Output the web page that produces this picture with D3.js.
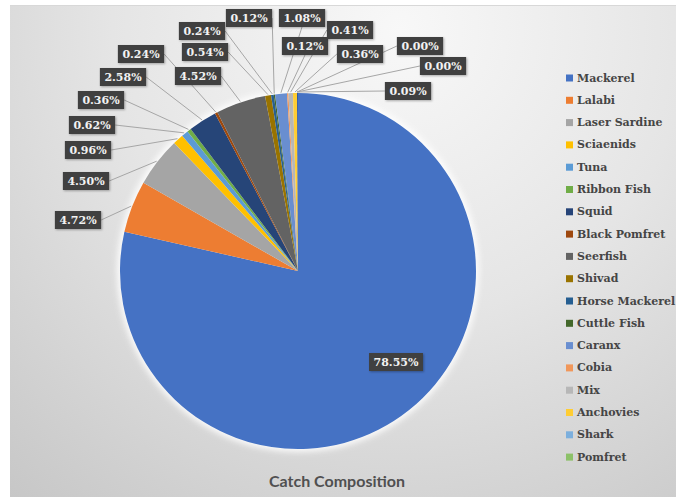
<!DOCTYPE html>
<html>
<head>
<meta charset="utf-8">
<script src="https://cdn.jsdelivr.net/npm/d3@7"></script>
<style>
  body { margin: 0; background: #ffffff; }
  svg { display: block; }
</style>
</head>
<body>
<svg id="chart" width="676" height="497"></svg>
<script>
// Catch composition by species (percent of total catch)
const species = [
  "Mackerel", "Lalabi", "Laser Sardine", "Sciaenids", "Tuna", "Ribbon Fish",
  "Squid", "Black Pomfret", "Seerfish", "Shivad", "Horse Mackerel", "Cuttle Fish",
  "Caranx", "Cobia", "Mix", "Anchovies", "Shark", "Pomfret", "Other"
];
const shares = [
  78.55, 4.72, 4.50, 0.96, 0.62, 0.36,
  2.58, 0.24, 4.52, 0.54, 0.24, 0.12,
  1.08, 0.12, 0.41, 0.36, 0.00, 0.00, 0.09
];
const palette = [
  "#4472C4", "#ED7D31", "#A5A5A5", "#FFC000", "#5B9BD5", "#70AD47",
  "#264478", "#9E480E", "#636363", "#997300", "#255E91", "#43682B",
  "#698ED0", "#F1975A", "#B7B7B7", "#FFCD33", "#7CAFDD", "#8CC168", "#335AA1"
];
// Callout box centres for each slice's percentage label
const labelCenters = [
  [396, 362], [78, 220], [86, 181], [88, 150], [92, 125], [101, 100],
  [123, 77], [141, 54], [198, 76], [205, 52], [202, 31], [249, 18],
  [302, 18], [305, 46], [350, 30], [360, 54], [420, 46], [443, 66], [408, 91]
];
const chartTitle = "Catch Composition";

const W = 676, H = 497;
const cx = 298, cy = 271, R = 178;

const svg = d3.select("#chart");
const defs = svg.append("defs");

// Chart area background: soft light-to-grey radial wash
const bg = defs.append("radialGradient")
  .attr("id", "bgGrad")
  .attr("gradientUnits", "userSpaceOnUse")
  .attr("cx", 400).attr("cy", 30).attr("r", 640);
bg.append("stop").attr("offset", 0).attr("stop-color", "#f8f8f8");
bg.append("stop").attr("offset", 0.45).attr("stop-color", "#e5e5e5");
bg.append("stop").attr("offset", 1).attr("stop-color", "#c4c4c4");

defs.append("filter").attr("id", "glow")
  .attr("x", "-20%").attr("y", "-20%").attr("width", "140%").attr("height", "140%")
  .append("feGaussianBlur").attr("stdDeviation", 3);

defs.append("filter").attr("id", "soft")
  .append("feGaussianBlur").attr("stdDeviation", 0.5);

const shadow = defs.append("filter").attr("id", "boxShadow")
  .attr("x", "-20%").attr("y", "-30%").attr("width", "150%").attr("height", "170%");
shadow.append("feDropShadow")
  .attr("dx", 1).attr("dy", 1).attr("stdDeviation", 1)
  .attr("flood-color", "#000").attr("flood-opacity", 0.3);

svg.append("rect")
  .attr("x", 10).attr("y", 5).attr("width", W - 10).attr("height", H - 5)
  .attr("fill", "url(#bgGrad)");
svg.append("line")
  .attr("x1", 10).attr("x2", W).attr("y1", 5.5).attr("y2", 5.5)
  .attr("stroke", "#d8d8d8").attr("stroke-width", 1);

// Pie geometry
const data = species.map((name, i) => ({ name, value: shares[i], color: palette[i], i }));
const pie = d3.pie().value(d => d.value).sort(null)
  .startAngle(0).endAngle(2 * Math.PI);
const arcs = pie(data);
const arc = d3.arc().innerRadius(0).outerRadius(R);

const g = svg.append("g").attr("transform", `translate(${cx},${cy})`);

// white halo behind the pie
g.append("circle").attr("r", R + 3).attr("fill", "#ffffff")
  .attr("opacity", 0.9).attr("filter", "url(#glow)");

g.append("g").attr("filter", "url(#soft)")
  .selectAll("path")
  .data(arcs)
  .join("path")
  .attr("d", arc)
  .attr("fill", d => d.data.color);

// Label callouts: measure text first to size each box
const labelFont = "bold 11px 'DejaVu Serif', serif";
const fmt = v => v.toFixed(2) + "%";

const labelLayer = svg.append("g");
const lineLayer = labelLayer.append("g");
const boxLayer = labelLayer.append("g");

arcs.forEach((a, i) => {
  const [lx, ly] = labelCenters[i];
  const grp = boxLayer.append("g");
  const rect = grp.append("rect").attr("fill", "#404040").attr("filter", "url(#boxShadow)");
  const txt = grp.append("text")
    .attr("x", lx).attr("y", ly)
    .attr("text-anchor", "middle")
    .attr("dominant-baseline", "central")
    .style("font", labelFont)
    .attr("fill", "#f2f2f2")
    .text(fmt(a.data.value));
  const tw = txt.node().getComputedTextLength();
  const bw = tw + 9, bh = 18;
  const box = { l: lx - bw / 2, r: lx + bw / 2, t: ly - bh / 2, b: ly + bh / 2 };
  rect.attr("x", box.l).attr("y", box.t).attr("width", bw).attr("height", bh);

  if (i === 0) return; // label sits inside its slice, no leader
  const mid = (a.startAngle + a.endAngle) / 2;
  const ax = cx + (R + 1) * Math.sin(mid);
  const ay = cy - (R + 1) * Math.cos(mid);
  let ex, ey;
  if (ax > box.r + 2) { ex = box.r; ey = ly; }
  else if (ax < box.l - 2) { ex = box.l; ey = ly; }
  else if (ay > box.b) { ex = lx; ey = box.b; }
  else { ex = lx; ey = box.t; }
  lineLayer.append("line")
    .attr("x1", ax).attr("y1", ay).attr("x2", ex).attr("y2", ey)
    .attr("stroke", "#a6a6a6").attr("stroke-width", 1);
});

// Legend (entries that fit in the plot height)
const legendTop = 78, legendStep = 22.3, legendBottom = 465;
const legendItems = data.filter((d, i) => legendTop + i * legendStep <= legendBottom);
const legend = svg.append("g");
const li = legend.selectAll("g")
  .data(legendItems)
  .join("g")
  .attr("transform", (d, i) => `translate(566,${legendTop + i * legendStep})`);
li.append("rect")
  .attr("x", 0).attr("y", -3.5).attr("width", 7).attr("height", 7)
  .attr("fill", d => d.color);
li.append("text")
  .attr("x", 11).attr("y", 0)
  .attr("dominant-baseline", "central")
  .style("font", "bold 11px 'DejaVu Serif', serif")
  .attr("fill", "#454545")
  .text(d => d.name);

// Title
svg.append("text")
  .attr("x", 337).attr("y", 487)
  .attr("text-anchor", "middle")
  .style("font", "bold 16px Lato, 'Open Sans', sans-serif")
  .attr("fill", "#505050")
  .text(chartTitle);
</script>
</body>
</html>
